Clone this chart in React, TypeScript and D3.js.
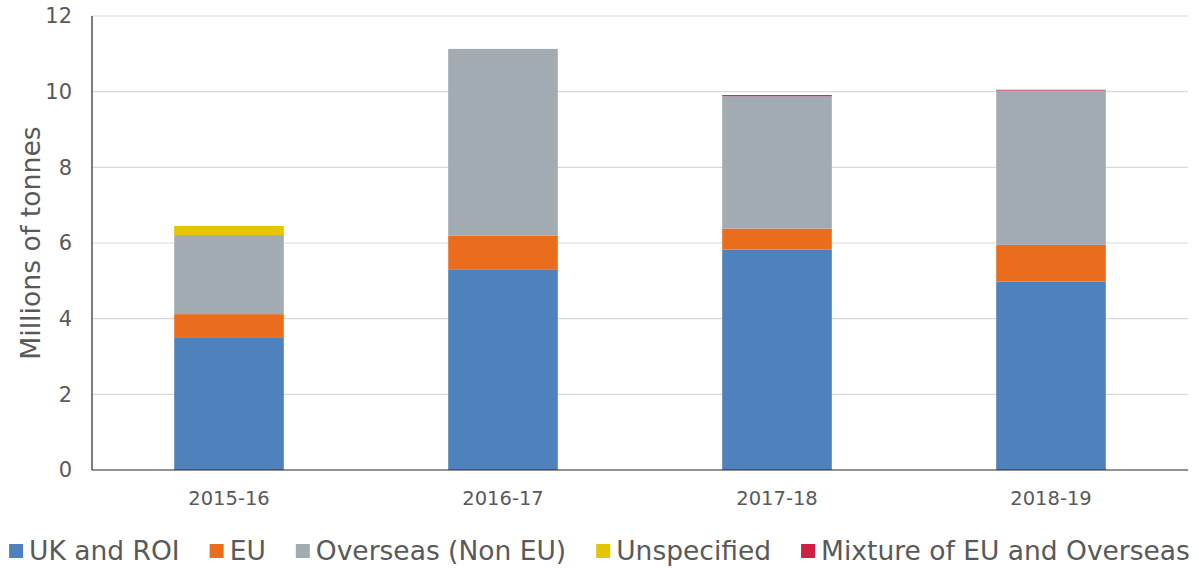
import { useEffect, useRef } from "react";
import * as d3 from "d3";

const years = ["2015-16", "2016-17", "2017-18", "2018-19"];
const seriesNames = ["UK and ROI", "EU", "Overseas (Non EU)", "Unspecified", "Mixture of EU and Overseas"];
const seriesColors = ["#4f81bd", "#e96d1d", "#a1abb1", "#e3c500", "#cf1f47"];
const ukRoi = [3.49, 5.29, 5.83, 4.98];
const eu = [0.63, 0.9, 0.55, 0.97];
const overseas = [2.09, 4.94, 3.5, 4.08];
const unspecified = [0.24, 0, 0, 0];
const mixture = [0, 0, 0.03, 0.02];
const yTicks = [0, 2, 4, 6, 8, 10, 12];

const FONT = "Verdana, 'DejaVu Sans', sans-serif";

const App = () => {
  const svgRef = useRef<SVGSVGElement>(null);

  useEffect(() => {
    const width = 1199;
    const height = 568;
    const margin = { top: 16, right: 11, bottom: 98, left: 92 };

    const svg = d3.select(svgRef.current).attr("width", width).attr("height", height);
    svg.selectAll("*").remove();

    const rows = years.map((y, i) => ({
      year: y,
      s0: ukRoi[i],
      s1: eu[i],
      s2: overseas[i],
      s3: unspecified[i],
      s4: mixture[i],
    }));
    const keys = ["s0", "s1", "s2", "s3", "s4"];
    const stacked = d3.stack<any>().keys(keys)(rows);

    const x = d3
      .scaleBand()
      .domain(years)
      .range([margin.left, width - margin.right])
      .paddingInner(0.6)
      .paddingOuter(0.3);
    const y = d3.scaleLinear().domain([0, 12]).range([height - margin.bottom, margin.top]);

    // gridlines
    svg
      .append("g")
      .selectAll("line")
      .data(yTicks.slice(1))
      .enter()
      .append("line")
      .attr("x1", margin.left)
      .attr("x2", width - margin.right)
      .attr("y1", (d) => y(d))
      .attr("y2", (d) => y(d))
      .attr("stroke", "#d9d9d9")
      .attr("stroke-width", 1.2);

    // y tick labels
    svg
      .append("g")
      .selectAll("text")
      .data(yTicks)
      .enter()
      .append("text")
      .attr("x", margin.left - 20)
      .attr("y", (d) => y(d))
      .attr("dy", "0.35em")
      .attr("text-anchor", "end")
      .style("font-family", FONT)
      .style("font-size", "21px")
      .style("fill", "#595959")
      .text((d) => d);

    // bars
    svg
      .append("g")
      .selectAll("g")
      .data(stacked)
      .enter()
      .append("g")
      .attr("fill", (_d, i) => seriesColors[i])
      .selectAll("rect")
      .data((d) => d)
      .enter()
      .append("rect")
      .attr("x", (d: any) => x(d.data.year)!)
      .attr("width", x.bandwidth())
      .attr("y", (d) => y(d[1]))
      .attr("height", (d) => y(d[0]) - y(d[1]));

    // axes lines
    svg
      .append("line")
      .attr("x1", margin.left)
      .attr("x2", margin.left)
      .attr("y1", margin.top)
      .attr("y2", y(0))
      .attr("stroke", "#262626")
      .attr("stroke-width", 1.2);
    svg
      .append("line")
      .attr("x1", margin.left)
      .attr("x2", width - margin.right)
      .attr("y1", y(0))
      .attr("y2", y(0))
      .attr("stroke", "#262626")
      .attr("stroke-width", 1.2);

    // x labels
    svg
      .append("g")
      .selectAll("text")
      .data(years)
      .enter()
      .append("text")
      .attr("x", (d) => x(d)! + x.bandwidth() / 2)
      .attr("y", y(0) + 35)
      .attr("text-anchor", "middle")
      .style("font-family", FONT)
      .style("font-size", "19.5px")
      .style("fill", "#595959")
      .text((d) => d);

    // y title
    svg
      .append("text")
      .attr("transform", `translate(40,${(margin.top + y(0)) / 2}) rotate(-90)`)
      .attr("text-anchor", "middle")
      .style("font-family", FONT)
      .style("font-size", "26.7px")
      .style("fill", "#595959")
      .text("Millions of tonnes");

    // legend
    const legend = svg.append("g");
    const items = legend
      .selectAll("g")
      .data(seriesNames)
      .enter()
      .append("g");
    items
      .append("rect")
      .attr("width", 14)
      .attr("height", 14)
      .attr("y", -7)
      .attr("fill", (_d, i) => seriesColors[i]);
    items
      .append("text")
      .attr("x", 20)
      .attr("dy", "0.35em")
      .style("font-family", FONT)
      .style("font-size", "26.5px")
      .style("fill", "#595959")
      .text((d) => d);
    let offset = 0;
    const widths: number[] = [];
    items.each(function () {
      const t = d3.select(this).select("text").node() as SVGTextElement;
      widths.push(20 + t.getComputedTextLength());
    });
    const gap = 30;
    const total = d3.sum(widths) + gap * (widths.length - 1);
    items.attr("transform", (_d, i) => {
      const tx = offset;
      offset += widths[i] + gap;
      return `translate(${tx},0)`;
    });
    legend.attr("transform", `translate(${(width - total) / 2},551)`);
  }, []);

  return (
    <div>
      <svg ref={svgRef} style={{ display: "block", position: "absolute", left: 0, top: 0 }}></svg>
    </div>
  );
};

export default App;
